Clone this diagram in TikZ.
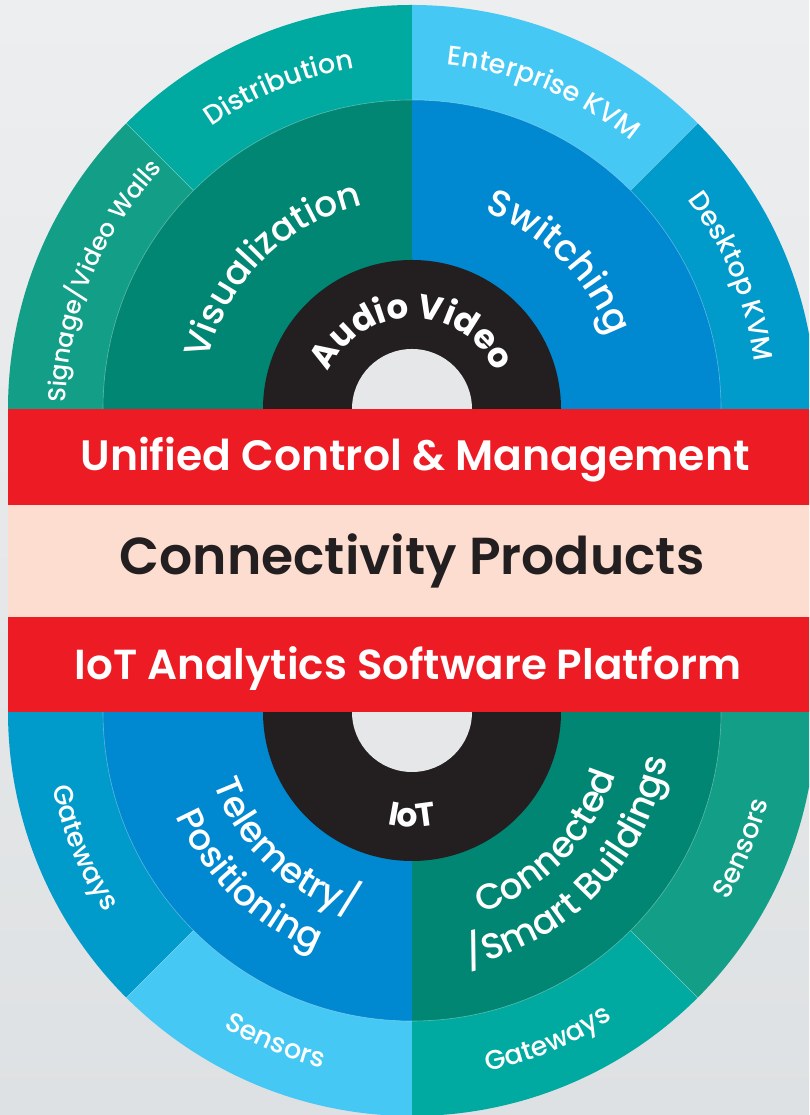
\documentclass[tikz,border=0pt]{standalone}
\usepackage{fontspec}
\setmainfont{Poppins}
\usetikzlibrary{decorations.text,calc}
\IfFontExistsTF{Poppins SemiBold}{\newfontfamily\fsemi{Poppins SemiBold}}{\newfontfamily\fsemi{Poppins}[FakeBold=1.2]}
\IfFontExistsTF{Poppins Medium}{\newfontfamily\fmed{Poppins Medium}}{\newfontfamily\fmed{Poppins}}
\newfontfamily\fpop{Poppins}
\definecolor{cSign}{HTML}{129E87}
\definecolor{cDist}{HTML}{00AAA0}
\definecolor{cVis}{HTML}{008672}
\definecolor{cSw}{HTML}{0088D1}
\definecolor{cEnt}{HTML}{46C8F5}
\definecolor{cDesk}{HTML}{009ACB}
\definecolor{cBlack}{HTML}{231F20}
\definecolor{cRed}{HTML}{ED1C24}
\definecolor{cPeach}{HTML}{FDDDD0}
\definecolor{cHole}{HTML}{E6E7E8}
\definecolor{bgTop}{HTML}{EDEEEF}
\definecolor{bgBot}{HTML}{DEE1E3}
% sector: center, radius, start angle, end angle, colour
\newcommand{\sect}[5]{\fill[#5] (#1) -- ($(#1)+(#3:#2pt)$) arc[start angle=#3, end angle=#4, radius=#2pt] -- cycle;}
% clockwise text (tops outward): center, mid angle, radius, font, text
\newcommand{\cwtext}[5]{\path[decorate,decoration={text along path,text align=center,text color=white,text={|#4|#5}}] ($(#1)+(#2+85:#3pt)$) arc[start angle=#2+85, end angle=#2-85, radius=#3pt];}
% counter-clockwise text (tops inward)
\newcommand{\ccwtext}[5]{\path[decorate,decoration={text along path,text align=center,text color=white,text={|#4|#5}}] ($(#1)+(#2-85:#3pt)$) arc[start angle=#2-85, end angle=#2+85, radius=#3pt];}
\tikzset{
  sepline/.style={white, opacity=0.35, line width=0.6pt},
  bandtext/.style={anchor=base, inner sep=0pt}
}
\begin{document}
\begin{tikzpicture}[x=1pt,y=1pt]
\useasboundingbox (0,0) rectangle (809,1115);
\clip (0,0) rectangle (809,1115);
\shade[top color=bgTop, bottom color=bgBot] (0,0) rectangle (809,1115);
\coordinate (T) at (412,706);
\coordinate (B) at (412,403);
% ---------- top half ----------
\sect{T}{404}{135}{180}{cSign}
\sect{T}{404}{90}{135}{cDist}
\sect{T}{404}{45}{90}{cEnt}
\sect{T}{404}{0}{45}{cDesk}
\draw[sepline] ($(T)+(135:309pt)$) -- ($(T)+(135:404pt)$);
\draw[sepline] ($(T)+(45:309pt)$) -- ($(T)+(45:404pt)$);
\sect{T}{309}{90}{180}{cVis}
\sect{T}{309}{0}{90}{cSw}
\draw[sepline] ($(T)+(0:309pt)$) arc[start angle=0, end angle=180, radius=309pt];
\fill[cBlack] (T) circle[radius=149pt];
\fill[cHole] (T) circle[radius=60pt];
% ---------- bottom half ----------
\sect{B}{404}{180}{225}{cDesk}
\sect{B}{404}{225}{270}{cEnt}
\sect{B}{404}{270}{315}{cDist}
\sect{B}{404}{315}{360}{cSign}
\draw[sepline] ($(B)+(225:309pt)$) -- ($(B)+(225:404pt)$);
\draw[sepline] ($(B)+(315:309pt)$) -- ($(B)+(315:404pt)$);
\sect{B}{309}{180}{270}{cSw}
\sect{B}{309}{270}{360}{cVis}
\draw[sepline] ($(B)+(180:309pt)$) arc[start angle=180, end angle=360, radius=309pt];
\fill[cBlack] (B) circle[radius=149pt];
\fill[cHole] (B) circle[radius=60pt];
% ---------- ring labels ----------
\cwtext{T}{157.5}{346}{\fmed\fontsize{24.5}{24.5}\selectfont}{Signage/Video Walls}
\cwtext{T}{112.5}{346}{\fmed\fontsize{27}{27}\selectfont}{Distribution}
\cwtext{T}{67.5}{346}{\fmed\fontsize{27}{27}\selectfont}{Enterprise KVM}
\cwtext{T}{22.5}{346}{\fmed\fontsize{27}{27}\selectfont}{Desktop KVM}
\cwtext{T}{135}{210}{\fmed\fontsize{36}{36}\selectfont}{Visualization}
\cwtext{T}{45}{210}{\fmed\fontsize{37}{37}\selectfont}{Switching}
\cwtext{T}{90}{91}{\fpop\bfseries\fontsize{34}{34}\selectfont}{Audio Video}
\ccwtext{B}{202.5}{367}{\fmed\fontsize{27}{27}\selectfont}{Gateways}
\ccwtext{B}{247.5}{367}{\fmed\fontsize{27}{27}\selectfont}{Sensors}
\ccwtext{B}{292.5}{367}{\fmed\fontsize{27}{27}\selectfont}{Gateways}
\ccwtext{B}{337.5}{367}{\fmed\fontsize{27}{27}\selectfont}{Sensors}
\ccwtext{B}{227}{211}{\fmed\fontsize{36}{36}\selectfont}{Telemetry/}
\ccwtext{B}{226}{258}{\fmed\fontsize{36}{36}\selectfont}{Positioning}
\ccwtext{B}{316}{213}{\fmed\fontsize{36}{36}\selectfont}{Connected}
\ccwtext{B}{316}{260}{\fmed\fontsize{36}{36}\selectfont}{/Smart Buildings}
\ccwtext{B}{270}{115}{\fpop\bfseries\fontsize{33}{33}\selectfont}{IoT}
% ---------- bands ----------
\fill[cRed] (8,610) rectangle (816,706);
\fill[cPeach] (8,498) rectangle (816,610);
\fill[cRed] (8,403) rectangle (816,498);
\node[bandtext, text=white, font=\fsemi\fontsize{42.5}{42.5}\selectfont] (ucm) at (415,644) {Unified Control \& Management};
\node[bandtext, text=cBlack, font=\fsemi\fontsize{52}{52}\selectfont] (cp) at (412,540) {Connectivity Products};
\node[bandtext, text=white, font=\fsemi\fontsize{42}{42}\selectfont] (iot) at (408,435) {IoT Analytics Software Platform};
\end{tikzpicture}
\end{document}
